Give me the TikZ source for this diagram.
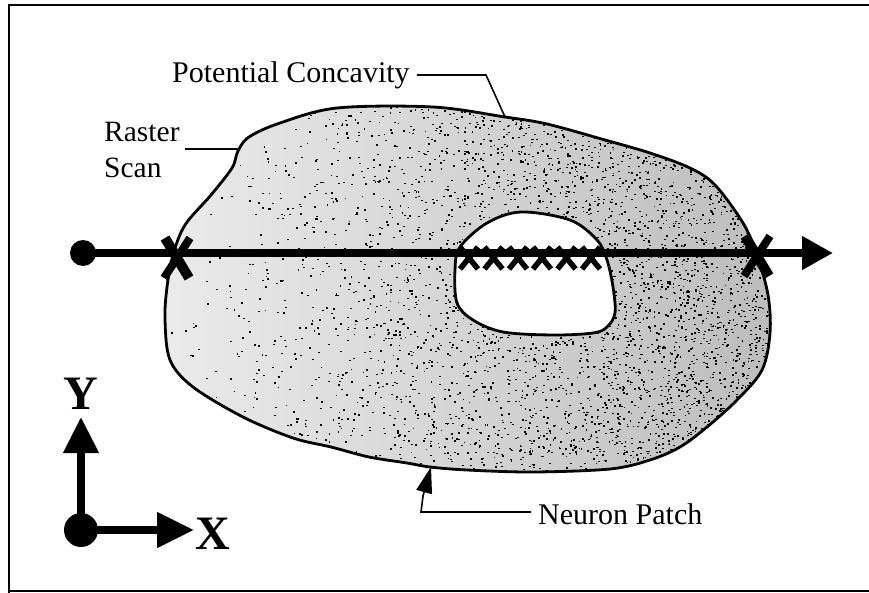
\documentclass[tikz,border=0pt]{standalone}
\usepackage{fontspec}
\setmainfont{Liberation Serif}
\usetikzlibrary{arrows.meta}
\begin{document}
\begin{tikzpicture}[x=1pt,y=-1pt,
  lbl/.style={inner sep=0pt,font=\fontsize{30}{30}\selectfont},
  leader/.style={line width=1.6pt},
  outline/.style={line width=2.8pt},
  axlbl/.style={inner sep=0pt,font=\fontsize{48}{48}\selectfont\bfseries},
  thick arrow/.style={line width=7.5pt},
  bigstroke/.style={line width=10pt},
  smallstroke/.style={line width=5.5pt}
]
\useasboundingbox (0,0) rectangle (869,593);
% frame
\draw[line width=2pt] (9,593) -- (9,5) -- (869,5);
\draw[line width=2pt] (9,591) -- (869,591);
\def\blobpath{plot[smooth cycle, tension=0.55] coordinates {
  (238,151) (249,137) (280,123) (337,108) (433,107) (505,117) (547,124)
  (605,140) (650,153) (690,168) (715,185) (743,223) (757,255) (768,295)
  (770,333) (762,370) (737,400) (707,427) (680,447) (650,460) (610,469)
  (533,472) (467,470) (430,467) (407,463) (369,457) (331,447)
  (293,438) (243,417) (193,387) (170,360) (165,320) (167,287) (173,255)
  (185,225) (211,195) (232,168)}}
% blob fill
\path[left color=black!8, right color=black!26] \blobpath;
\begin{scope}
  \clip \blobpath;
  \pgfmathsetseed{7}
  \foreach \i in {1,...,4500}{
    \pgfmathsetmacro\px{165+605*sqrt(rnd)}
    \pgfmathsetmacro\py{105+370*rnd}
    \fill (\px,\py) rectangle ++(1.8,1.4);
  }
\end{scope}
\draw[outline] \blobpath;
% hole
\draw[outline, fill=white]
  plot[smooth cycle, tension=0.55] coordinates {
  (521,212) (570,220) (597,240) (607,260) (613,287) (615,313) (607,327)
  (593,333) (553,335) (503,332) (473,320) (457,303) (455,270) (460,247)
  (487,223)};
% raster line
\node[circle, fill=black, inner sep=0pt, minimum size=26pt] (start) at (83,253) {};
\coordinate (rend) at (833,253);
\draw[thick arrow, -{Triangle[length=31pt,width=32pt]}] (start.center) -- (rend);
% crossings (big)
\foreach \cx/\cy in {177/258, 757/256}{
  \draw[bigstroke] (\cx-12,\cy-20) -- (\cx+12,\cy+20);
  \draw[line width=8pt] (\cx+13,\cy-20) -- (\cx-13,\cy+20);
}
% crossings (small)
\foreach \xx in {469,493.5,518,542,566.5,591}{
  \draw[smallstroke] (\xx-9,258-11) -- (\xx+9,258+11);
  \draw[smallstroke] (\xx+9,258-11) -- (\xx-9,258+11);
}
% labels
\node[lbl, anchor=base west] (pc) at (172,83) {Potential Concavity};
\coordinate (pcbend) at (486,75);
\coordinate (pcend) at (505,117);
\draw[leader] ([xshift=7pt]pc.east |- 0,75) -- (pcbend) -- (pcend);
\node[lbl, anchor=base west, font=\fontsize{29.5}{29.5}\selectfont] (raster) at (104,142) {Raster};
\node[lbl, anchor=base west, font=\fontsize{29.5}{29.5}\selectfont] (scan) at (104,178) {Scan};
\coordinate (rsa) at (185,149);
\coordinate (rsb) at (238,149);
\draw[leader] (rsa) -- (rsb);
\node[lbl, anchor=base west] (np) at (538,524) {Neuron Patch};
\coordinate (npbend) at (421,512);
\coordinate (npmid) at (423,496);
\coordinate (nptip) at (431,467);
\draw[leader] ([xshift=-7pt]np.west |- 0,512) -- (npbend) -- (npmid);
\draw[leader, -{Triangle[length=26pt,width=16pt]}] (npmid) -- (nptip);
% axes
\node[circle, fill=black, inner sep=0pt, minimum size=34pt] (orig) at (81,530) {};
\coordinate (ytip) at (81,417);
\coordinate (xtip) at (194,530);
\draw[thick arrow, -{Triangle[length=36pt,width=34pt]}] (orig.center) -- (ytip);
\draw[thick arrow, -{Triangle[length=37pt,width=34pt]}] (orig.center) -- (xtip);
\node[axlbl] (ylab) at (81,394) {Y};
\node[axlbl] (xlab) at (213,534) {X};
\end{tikzpicture}
\end{document}
